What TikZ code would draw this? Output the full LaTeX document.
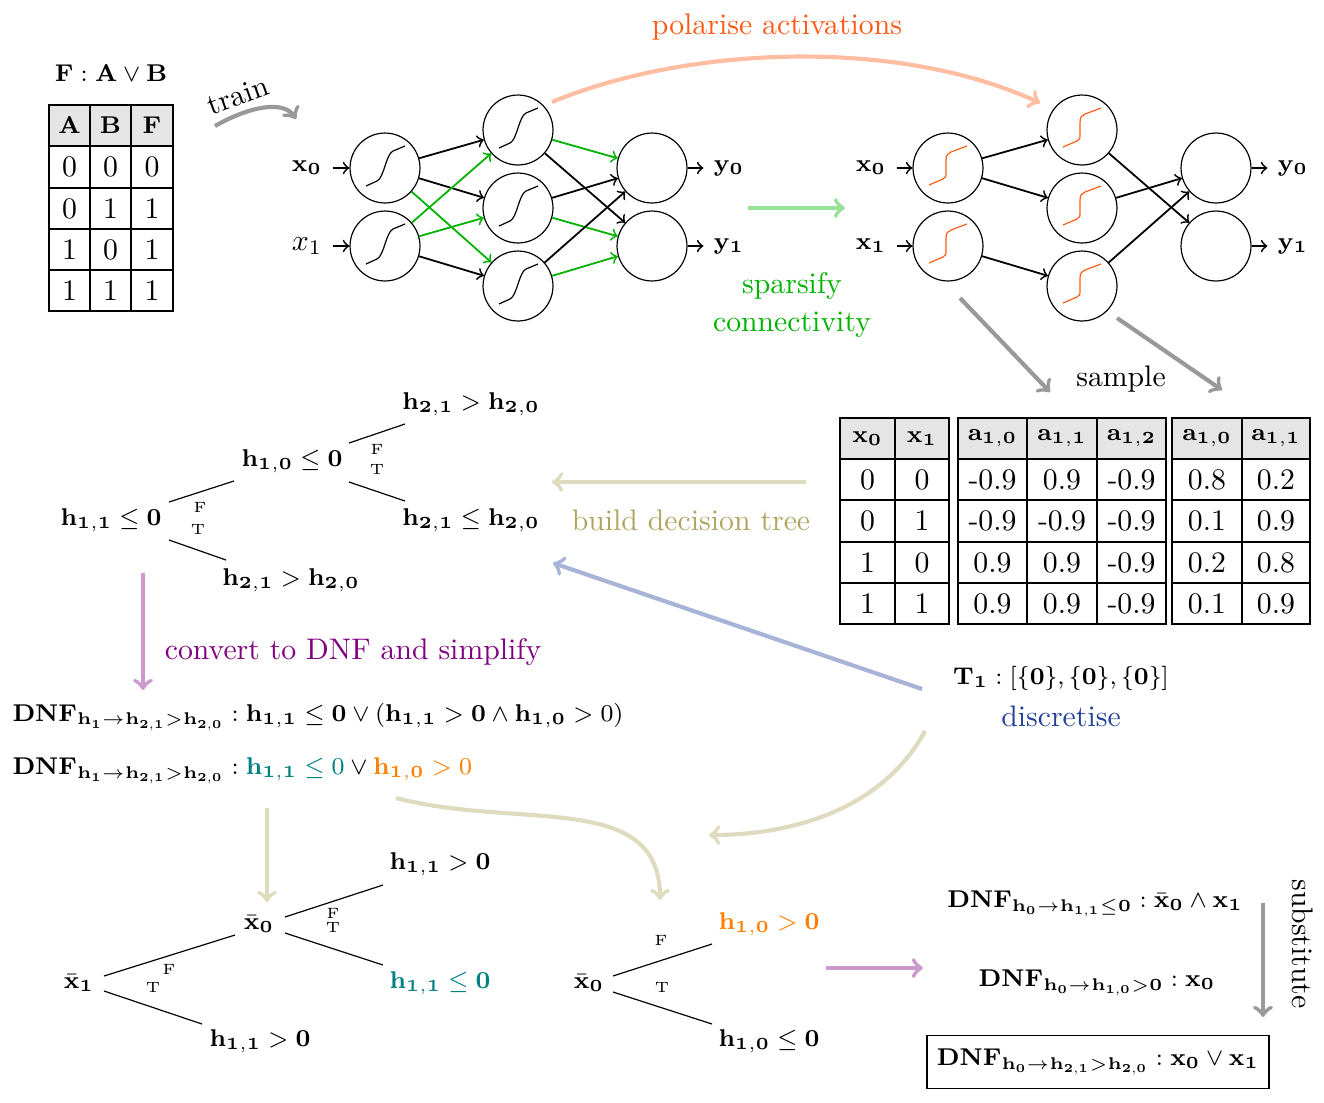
\RequirePackage{fix-cm}
\documentclass[tikz,border=0pt]{standalone}
\usepackage{amsmath}
\definecolor{polarc}{RGB}{255,90,20}
\definecolor{greenc}{RGB}{0,178,0}
\definecolor{olivec}{RGB}{175,165,95}
\definecolor{bluec}{RGB}{35,65,155}
\definecolor{violetc}{RGB}{128,0,128}
\begin{document}
\begin{tikzpicture}[x=0.336pt,y=-0.336pt,
  font=\fontsize{8.15pt}{10pt}\selectfont,
  txt/.style={font=\fontsize{10pt}{12pt}\selectfont},
  neuron/.style={circle,draw,thin,minimum size=23.5pt,inner sep=0pt},
  ed/.style={->,semithick},
  ged/.style={->,semithick,draw=greenc},
  bigarrow/.style={->,line width=1.4pt},
  tline/.style={thin},
  ft/.style={font=\tiny,inner sep=0pt},
  tbl/.style={semithick},
  sig/.pic={\draw[thin] (-19,18) -- (-8,13) .. controls (-1,10) and (1,-14) .. (8,-17) -- (20,-22);},
  psig/.pic={\draw[thin,polarc] (-19,17) -- (-5,11) .. controls (-2,10) and (-2,8) .. (-2,4) -- (-2,-8) .. controls (-2,-13) and (0,-15) .. (3,-16) -- (19,-22);}
]
\useasboundingbox (0,0) rectangle (1324,1102);

% ---------- truth table ----------
\node (title) at (111,73) {$\mathbf{F} : \mathbf{A} \vee \mathbf{B}$};
\fill[gray!20] (49,105) rectangle (173,146);
\draw[tbl] (49,105) rectangle (173,311);
\foreach \y in {146,188,229,270} \draw[tbl] (49,\y) -- (173,\y);
\foreach \x in {90,131} \draw[tbl] (\x,105) -- (\x,311);
\foreach \c/\x/\t in {1/69.5/A,2/110.5/B,3/152/F} \node (tA-0-\c) at (\x,125.5) {$\mathbf{\t}$};
\foreach \r/\y/\a/\b/\f in {1/167/0/0/0,2/208.5/0/1/1,3/249.5/1/0/1,4/290.5/1/1/1}{
  \node[txt] (tA-\r-1) at (69.5,\y) {$\a$};
  \node[txt] (tA-\r-2) at (110.5,\y) {$\b$};
  \node[txt] (tA-\r-3) at (152,\y) {$\f$};
}

% train arrow
\node[txt,rotate=20] (train) at (238,96) {train};
\coordinate (trs) at (215,126);
\coordinate (tre) at (296,119);
\draw[bigarrow,black!40] (trs) .. controls (250,106) and (284,100) .. (tre);

% ---------- network 1 ----------
\foreach \n/\x/\y in {i0/385/168,i1/385/246,h0/518/130,h1/518/208,h2/518/286}{
  \node[neuron] (a-\n) at (\x,\y) {};
  \pic at (\x,\y) {sig};
}
\node[neuron] (a-o0) at (652,168) {};
\node[neuron] (a-o1) at (652,246) {};
\node (a-x0) at (307,168) {$\mathbf{x_0}$};
\node[txt] (a-x1) at (307,246) {$x_1$};
\node (a-y0) at (729,168) {$\mathbf{y_0}$};
\node (a-y1) at (729,246) {$\mathbf{y_1}$};
\draw[ed] (a-x0) -- (a-i0);
\draw[ed] (a-x1) -- (a-i1);
\draw[ed] (a-o0) -- (a-y0);
\draw[ed] (a-o1) -- (a-y1);
\draw[ed] (a-i0) -- (a-h0);
\draw[ed] (a-i0) -- (a-h1);
\draw[ged] (a-i0) -- (a-h2);
\draw[ged] (a-i1) -- (a-h0);
\draw[ged] (a-i1) -- (a-h1);
\draw[ed] (a-i1) -- (a-h2);
\draw[ged] (a-h0) -- (a-o0);
\draw[ed] (a-h0) -- (a-o1);
\draw[ed] (a-h1) -- (a-o0);
\draw[ged] (a-h1) -- (a-o1);
\draw[ed] (a-h2) -- (a-o0);
\draw[ged] (a-h2) -- (a-o1);

% ---------- network 2 ----------
\foreach \n/\x/\y in {i0/948/168,i1/948/246,h0/1082/130,h1/1082/208,h2/1082/286}{
  \node[neuron] (b-\n) at (\x,\y) {};
  \pic at (\x,\y) {psig};
}
\node[neuron] (b-o0) at (1216,168) {};
\node[neuron] (b-o1) at (1216,246) {};
\node (b-x0) at (871,168) {$\mathbf{x_0}$};
\node (b-x1) at (871,246) {$\mathbf{x_1}$};
\node (b-y0) at (1293,168) {$\mathbf{y_0}$};
\node (b-y1) at (1293,246) {$\mathbf{y_1}$};
\draw[ed] (b-x0) -- (b-i0);
\draw[ed] (b-x1) -- (b-i1);
\draw[ed] (b-o0) -- (b-y0);
\draw[ed] (b-o1) -- (b-y1);
\draw[ed] (b-i0) -- (b-h0);
\draw[ed] (b-i0) -- (b-h1);
\draw[ed] (b-i1) -- (b-h2);
\draw[ed] (b-h0) -- (b-o1);
\draw[ed] (b-h1) -- (b-o0);
\draw[ed] (b-h2) -- (b-o0);

% polarise
\node[txt,text=polarc] (polar) at (777,27) {polarise activations};
\coordinate (pls) at (552,102);
\coordinate (ple) at (1040,103);
\draw[bigarrow,polarc!40] (pls) .. controls (690,45) and (900,38) .. (ple);

% sparsify
\coordinate (sps) at (748,208);
\coordinate (spe) at (845,208);
\draw[bigarrow,greenc!40] (sps) -- (spe);
\node[txt,text=greenc,align=center] (sparse) at (792,305) {sparsify\\[1pt]connectivity};

% sample
\coordinate (sa1) at (960,298);
\coordinate (sa2) at (1050,392);
\coordinate (sb1) at (1117,318);
\coordinate (sb2) at (1222,390);
\draw[bigarrow,black!40] (sa1) -- (sa2);
\draw[bigarrow,black!40] (sb1) -- (sb2);
\node[txt] (sample) at (1121,379) {sample};

% ---------- sampled tables ----------
\fill[gray!20] (840,418) rectangle (949,459);
\fill[gray!20] (958,418) rectangle (1166,459);
\fill[gray!20] (1172,418) rectangle (1310,459);
\draw[tbl] (840,418) rectangle (949,624);
\draw[tbl] (958,418) rectangle (1166,624);
\draw[tbl] (1172,418) rectangle (1310,624);
\foreach \y in {459,500,542,583}{
  \draw[tbl] (840,\y) -- (949,\y);
  \draw[tbl] (958,\y) -- (1166,\y);
  \draw[tbl] (1172,\y) -- (1310,\y);
}
\foreach \x in {895,1027,1097,1242} \draw[tbl] (\x,418) -- (\x,624);
\node (tx-0-1) at (867.5,438.5) {$\mathbf{x_0}$};
\node (tx-0-2) at (922,438.5) {$\mathbf{x_1}$};
\node (ta-0-1) at (992.5,438.5) {$\mathbf{a_{1,0}}$};
\node (ta-0-2) at (1062,438.5) {$\mathbf{a_{1,1}}$};
\node (ta-0-3) at (1131.5,438.5) {$\mathbf{a_{1,2}}$};
\node (th-0-1) at (1207,438.5) {$\mathbf{a_{1,0}}$};
\node (th-0-2) at (1276,438.5) {$\mathbf{a_{1,1}}$};
\foreach \r/\y/\p/\q/\u/\v/\w/\m/\n in {
  1/479.5/0/0/-0.9/0.9/-0.9/0.8/0.2,
  2/521/0/1/-0.9/-0.9/-0.9/0.1/0.9,
  3/562.5/1/0/0.9/0.9/-0.9/0.2/0.8,
  4/603.5/1/1/0.9/0.9/-0.9/0.1/0.9}{
  \node[txt] (tx-\r-1) at (867.5,\y) {\p};
  \node[txt] (tx-\r-2) at (922,\y) {\q};
  \node[txt] (ta-\r-1) at (992.5,\y) {\u};
  \node[txt] (ta-\r-2) at (1062,\y) {\v};
  \node[txt] (ta-\r-3) at (1131.5,\y) {\w};
  \node[txt] (th-\r-1) at (1207,\y) {\m};
  \node[txt] (th-\r-2) at (1276,\y) {\n};
}

% build decision tree
\coordinate (bds) at (806,482);
\coordinate (bde) at (552,482);
\draw[bigarrow,olivec!40] (bds) -- (bde);
\node[txt,text=olivec] (build) at (691,520) {build decision tree};

% discretise
\node (T1) at (1061,678) {$\mathbf{T_1} : [\{\mathbf{0}\},\{\mathbf{0}\},\{\mathbf{0}\}]$};
\node[txt,text=bluec] (disc) at (1061,716) {discretise};
\coordinate (dss) at (922,689);
\coordinate (dse) at (553,563);
\draw[bigarrow,bluec!40] (dss) -- (dse);

% ---------- decision tree (top) ----------
\node (A) at (292,461) {$\mathbf{h_{1,0}} \leq \mathbf{0}$};
\node (B) at (471,404) {$\mathbf{h_{2,1}} > \mathbf{h_{2,0}}$};
\node (C) at (471,520) {$\mathbf{h_{2,1}} \leq \mathbf{h_{2,0}}$};
\node (D) at (111,520) {$\mathbf{h_{1,1}} \leq \mathbf{0}$};
\node (E) at (291,580) {$\mathbf{h_{2,1}} > \mathbf{h_{2,0}}$};
\draw[tline] ([shift={(57,-18)}]A.center) -- ([shift={(-66,20)}]B.center);
\draw[tline] ([shift={(57,21)}]A.center) -- ([shift={(-66,-19)}]C.center);
\draw[tline] ([shift={(58,-18)}]D.center) -- ([shift={(-58,20)}]A.center);
\draw[tline] ([shift={(58,20)}]D.center) -- ([shift={(-65,-20)}]E.center);
\node[ft] (Af) at (377,449) {F};
\node[ft] (At) at (377,469) {T};
\node[ft] (Df) at (200,507) {F};
\node[ft] (Dt) at (198,529) {T};

% convert
\coordinate (cvs) at (143,573);
\coordinate (cve) at (143,690);
\draw[bigarrow,violetc!40] (cvs) -- (cve);
\node[txt,text=violetc] (conv) at (353,652) {convert to DNF and simplify};

% DNF lines
\node[anchor=west] (dnf1) at (2,717) {$\mathbf{DNF_{h_1\rightarrow h_{2,1}>h_{2,0}}} : \mathbf{h_{1,1}} \leq \mathbf{0} \vee (\mathbf{h_{1,1}} > \mathbf{0} \wedge \mathbf{h_{1,0}} > 0)$};
\node[anchor=west] (dnf2) at (2,771) {$\mathbf{DNF_{h_1\rightarrow h_{2,1}>h_{2,0}}} : {\color{teal}\mathbf{h_{1,1}} \leq 0} \vee {\color{orange}\mathbf{h_{1,0}} > 0}$};

% olive arrows
\coordinate (o1s) at (925,731);
\coordinate (o1e) at (709,835);
\draw[bigarrow,olivec!40] (o1s) .. controls (885,805) and (800,835) .. (o1e);
\coordinate (o2s) at (267,808);
\coordinate (o2e) at (267,902);
\draw[bigarrow,olivec!40] (o2s) -- (o2e);
\coordinate (o3s) at (396,798);
\coordinate (o3e) at (660,900);
\draw[bigarrow,olivec!40] (o3s) .. controls (520,830) and (660,790) .. (o3e);

% ---------- bottom-left tree ----------
\node (P) at (259,924) {$\bar{\mathbf{x}}_{\mathbf{0}}$};
\node (Q) at (440,864) {$\mathbf{h_{1,1}} > \mathbf{0}$};
\node[text=teal] (R) at (440,983) {$\mathbf{h_{1,1}} \leq \mathbf{0}$};
\node (S) at (79,983) {$\bar{\mathbf{x}}_{\mathbf{1}}$};
\node (U) at (260,1041) {$\mathbf{h_{1,1}} > \mathbf{0}$};
\draw[tline] ([shift={(26,-7)}]P.center) -- ([shift={(-57,21)}]Q.center);
\draw[tline] ([shift={(26,9)}]P.center) -- ([shift={(-57,-18)}]R.center);
\draw[tline] ([shift={(25,-7)}]S.center) -- ([shift={(-24,11)}]P.center);
\draw[tline] ([shift={(25,8)}]S.center) -- ([shift={(-58,-17)}]U.center);
\node[ft] (Pf) at (333,913) {F};
\node[ft] (Pt) at (333,927) {T};
\node[ft] (Sf) at (169,969) {F};
\node[ft] (St) at (153,987) {T};

% ---------- bottom-middle tree ----------
\node (V) at (589,983) {$\bar{\mathbf{x}}_{\mathbf{0}}$};
\node[text=orange] (W) at (769,924) {$\mathbf{h_{1,0}} > \mathbf{0}$};
\node (X) at (769,1041) {$\mathbf{h_{1,0}} \leq \mathbf{0}$};
\draw[tline] ([shift={(24,-7)}]V.center) -- ([shift={(-57,20)}]W.center);
\draw[tline] ([shift={(24,9)}]V.center) -- ([shift={(-57,-17)}]X.center);
\node[ft] (Vf) at (661,940) {F};
\node[ft] (Vt) at (662,987) {T};

\coordinate (vis) at (826,968);
\coordinate (vie) at (923,968);
\draw[bigarrow,violetc!40] (vis) -- (vie);

% ---------- right DNFs ----------
\node (r1) at (1095,904) {$\mathbf{DNF_{h_0\rightarrow h_{1,1}\leq 0}} : \bar{\mathbf{x}}_{\mathbf{0}} \wedge \mathbf{x_1}$};
\node (r2) at (1097,983) {$\mathbf{DNF_{h_0\rightarrow h_{1,0}>0}} : \mathbf{x_0}$};
\node[draw,thin,minimum width=112pt,minimum height=18pt] (r3) at (1098,1062) {$\mathbf{DNF_{h_0\rightarrow h_{2,1}>h_{2,0}}} : \mathbf{x_0} \vee \mathbf{x_1}$};
\coordinate (sus) at (1263,903);
\coordinate (sue) at (1263,1017);
\draw[bigarrow,black!40] (sus) -- (sue);
\node[txt,rotate=-90] (subst) at (1303,944) {substitute};
\end{tikzpicture}
\end{document}
